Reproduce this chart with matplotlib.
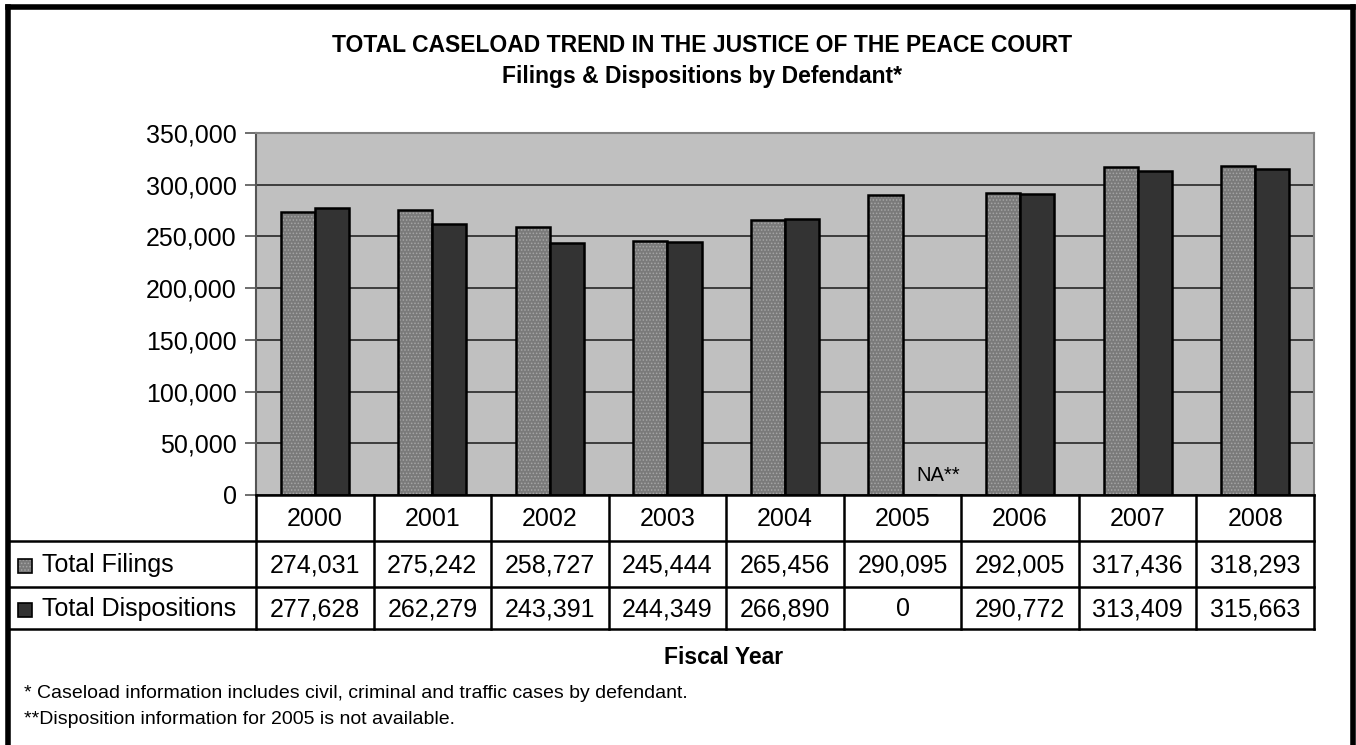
import numpy as np
import matplotlib.pyplot as plt
import matplotlib as mpl

plt.rcParams['font.family'] = ['Liberation Sans', 'DejaVu Sans']
mpl.rcParams['hatch.linewidth'] = 0.7

# Data
years = ['2000', '2001', '2002', '2003', '2004', '2005', '2006', '2007', '2008']
filings = [274031, 275242, 258727, 245444, 265456, 290095, 292005, 317436, 318293]
dispositions = [277628, 262279, 243391, 244349, 266890, 0, 290772, 313409, 315663]
row_labels = ['Total Filings', 'Total Dispositions']
yticks = [0, 50000, 100000, 150000, 200000, 250000, 300000, 350000]

W, H = 1356, 745
fig = plt.figure(figsize=(W / 100, H / 100), dpi=100)

# pixel layout of plot area
px_l, px_r, px_t, px_b = 256, 1314, 133, 495
ax = fig.add_axes([px_l / W, 1 - px_b / H, (px_r - px_l) / W, (px_b - px_t) / H])
ax.set_facecolor('#c0c0c0')

x = np.arange(len(years))
bw = 0.29
# filings: grey with light dot pattern, black outline drawn on top
ax.bar(x - bw / 2, filings, bw, color='#7a7a7a', edgecolor='#a5a5a5', linewidth=0,
       hatch='.....', zorder=3)
ax.bar(x - bw / 2, filings, bw, color='none', edgecolor='black', linewidth=1.8, zorder=3)
ax.bar(x + bw / 2, dispositions, bw, color='#333333', edgecolor='black', linewidth=1.8,
       zorder=3)

ax.set_xlim(-0.5, len(years) - 0.5)
ax.set_ylim(0, 350000)
ax.set_yticks(yticks)
ax.set_yticklabels([f'{v:,}' for v in yticks], fontsize=18)
ax.set_xticks([])
ax.yaxis.grid(True, color='#333333', linewidth=1.3, zorder=1)
ax.set_axisbelow(True)
ax.tick_params(axis='y', length=8, width=1.2, color='#555555', pad=6)
for s in ['top', 'right']:
    ax.spines[s].set_color('#808080')
    ax.spines[s].set_linewidth(1.5)
ax.spines['left'].set_color('#555555')
ax.spines['left'].set_linewidth(1.5)
ax.spines['bottom'].set_visible(False)

ax.text(5.12, 19000, 'NA**', fontsize=14.5, ha='left', va='center', zorder=4)

# overlay in pixel coordinates for table, frame and text
ov = fig.add_axes([0, 0, 1, 1], facecolor='none')
ov.set_xlim(0, W)
ov.set_ylim(H, 0)
ov.axis('off')

# outer frame
ov.plot([8, 8], [H, 7], color='black', linewidth=4, solid_capstyle='projecting')
ov.plot([8, 1353], [7, 7], color='black', linewidth=4, solid_capstyle='projecting')
ov.plot([1353, 1353], [7, H], color='black', linewidth=4, solid_capstyle='projecting')

# table
col_w = (px_r - px_l) / len(years)
rows_y = [495, 541, 587, 629]
lw = 1.8
ov.plot([px_l, px_r], [rows_y[0], rows_y[0]], color='black', linewidth=lw)
for yy in rows_y[1:]:
    ov.plot([10, px_r], [yy, yy], color='black', linewidth=lw)
for i in range(len(years) + 1):
    xx = px_l + i * col_w
    ov.plot([xx, xx], [rows_y[0], rows_y[3]], color='black', linewidth=lw)

fs = 18
for i, yr in enumerate(years):
    cx = px_l + (i + 0.5) * col_w
    ov.text(cx, (rows_y[0] + rows_y[1]) / 2 + 1, yr, fontsize=fs, ha='center', va='center')
    ov.text(cx, (rows_y[1] + rows_y[2]) / 2 + 1, f'{filings[i]:,}', fontsize=fs,
            ha='center', va='center')
    ov.text(cx, (rows_y[2] + rows_y[3]) / 2 + 1, f'{dispositions[i]:,}', fontsize=fs,
            ha='center', va='center')

for j, lab in enumerate(row_labels):
    cy = (rows_y[j + 1] + rows_y[j + 2]) / 2 + 2
    if j == 0:
        ov.add_patch(mpl.patches.Rectangle((18, cy - 7), 14, 14, facecolor='#7a7a7a',
                                           edgecolor='#a5a5a5', linewidth=0, hatch='.....'))
        ov.add_patch(mpl.patches.Rectangle((18, cy - 7), 14, 14, facecolor='none',
                                           edgecolor='black', linewidth=1.2))
    else:
        ov.add_patch(mpl.patches.Rectangle((18, cy - 7), 14, 14, facecolor='#333333',
                                           edgecolor='black', linewidth=1.2))
    ov.text(42, cy - 1, lab, fontsize=fs, ha='left', va='center')

# titles and notes
ov.text(702, 45, 'TOTAL CASELOAD TREND IN THE JUSTICE OF THE PEACE COURT', fontsize=16.5,
        fontweight='bold', ha='center', va='center')
ov.text(702, 76, 'Filings & Dispositions by Defendant*', fontsize=16.5,
        fontweight='bold', ha='center', va='center')
ov.text(724, 658, 'Fiscal Year', fontsize=16.5, fontweight='bold', ha='center', va='center')
ov.text(24, 694, '* Caseload information includes civil, criminal and traffic cases by defendant.',
        fontsize=14, ha='left', va='center')
ov.text(24, 720, '**Disposition information for 2005 is not available.',
        fontsize=14, ha='left', va='center')

fig.savefig('out.png', dpi=100, facecolor='white')
